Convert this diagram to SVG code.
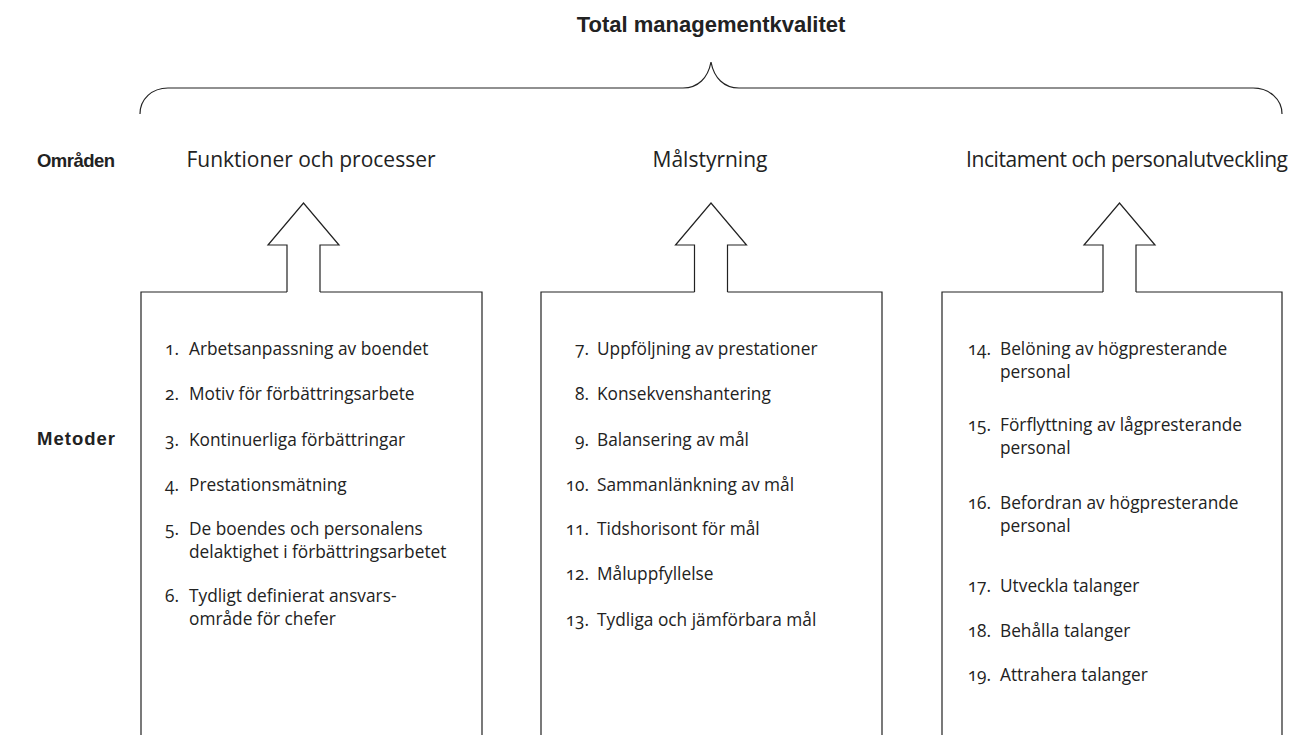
<svg xmlns="http://www.w3.org/2000/svg" width="1299" height="735" viewBox="0 0 1299 735">
<style>
.ln{fill:none;stroke:#222;stroke-width:1.2;stroke-linejoin:miter}
.b{font-family:"Liberation Sans",Arial,sans-serif;font-weight:bold;fill:#222}
.h{font-family:"Open Sans","Liberation Sans",sans-serif;font-size:21px;fill:#222;text-anchor:middle}
.t{font-family:"Open Sans","Liberation Sans",sans-serif;font-size:17.3px;fill:#222;font-variant-numeric:oldstyle-nums}
.n{text-anchor:end}
</style>
<rect width="1299" height="735" fill="#fff"/>
<g id="title">
<text class="b" x="711" y="32" font-size="22" text-anchor="middle">Total managementkvalitet</text>
</g>
<g id="labels">
<text class="b" x="37" y="167" font-size="18.5" textLength="78">Områden</text>
<text class="b" x="37" y="445" font-size="18.5" textLength="78">Metoder</text>
</g>
<g id="connectors">
<path class="ln" d="M140,114 C140,99 152,88 168,88 L683,88 C698,88 708,78 711,62 C714,78 724,88 739,88 L1253,88 C1269,88 1282,99 1282,114"/>
<path class="ln" d="M287,292 V245 H268 L303.5,203 L339,245 H320 V292"/>
<path class="ln" d="M694.5,292 V245 H675.5 L711,203 L746.5,245 H727.5 V292"/>
<path class="ln" d="M1103,292 V245 H1084 L1119.5,203 L1155,245 H1136 V292"/>
</g>
<g id="area1"><text class="h" x="311" y="167">Funktioner och processer</text></g>
<g id="area2"><text class="h" x="710" y="167">Målstyrning</text></g>
<g id="area3"><text class="h" x="1127" y="167" textLength="322">Incitament och personalutveckling</text></g>
<g id="methods1">
<path class="ln" d="M287,292 H141 V737 M320,292 H482 V737"/>
<text class="t n" x="179" y="355">1.</text><text class="t" x="189" y="355">Arbetsanpassning av boendet</text>
<text class="t n" x="179" y="400">2.</text><text class="t" x="189" y="400">Motiv för förbättringsarbete</text>
<text class="t n" x="179" y="446">3.</text><text class="t" x="189" y="446">Kontinuerliga förbättringar</text>
<text class="t n" x="179" y="491">4.</text><text class="t" x="189" y="491">Prestationsmätning</text>
<text class="t n" x="179" y="535">5.</text><text class="t" x="189" y="535">De boendes och personalens</text>
<text class="t" x="189" y="558">delaktighet i förbättringsarbetet</text>
<text class="t n" x="179" y="602">6.</text><text class="t" x="189" y="602">Tydligt definierat ansvars-</text>
<text class="t" x="189" y="625">område för chefer</text>
</g>
<g id="methods2">
<path class="ln" d="M694.5,292 H541 V737 M727.5,292 H882 V737"/>
<text class="t n" x="589" y="355">7.</text><text class="t" x="597" y="355">Uppföljning av prestationer</text>
<text class="t n" x="589" y="400">8.</text><text class="t" x="597" y="400">Konsekvenshantering</text>
<text class="t n" x="589" y="446">9.</text><text class="t" x="597" y="446">Balansering av mål</text>
<text class="t n" x="589" y="491">10.</text><text class="t" x="597" y="491">Sammanlänkning av mål</text>
<text class="t n" x="589" y="535">11.</text><text class="t" x="597" y="535">Tidshorisont för mål</text>
<text class="t n" x="589" y="580">12.</text><text class="t" x="597" y="580">Måluppfyllelse</text>
<text class="t n" x="589" y="626">13.</text><text class="t" x="597" y="626">Tydliga och jämförbara mål</text>
</g>
<g id="methods3">
<path class="ln" d="M1103,292 H942 V737 M1136,292 H1282 V737"/>
<text class="t n" x="991" y="355">14.</text><text class="t" x="1000" y="355">Belöning av högpresterande</text>
<text class="t" x="1000" y="378">personal</text>
<text class="t n" x="991" y="431">15.</text><text class="t" x="1000" y="431">Förflyttning av lågpresterande</text>
<text class="t" x="1000" y="454">personal</text>
<text class="t n" x="991" y="509">16.</text><text class="t" x="1000" y="509">Befordran av högpresterande</text>
<text class="t" x="1000" y="532">personal</text>
<text class="t n" x="991" y="592">17.</text><text class="t" x="1000" y="592">Utveckla talanger</text>
<text class="t n" x="991" y="637">18.</text><text class="t" x="1000" y="637">Behålla talanger</text>
<text class="t n" x="991" y="681">19.</text><text class="t" x="1000" y="681">Attrahera talanger</text>
</g>
</svg>
